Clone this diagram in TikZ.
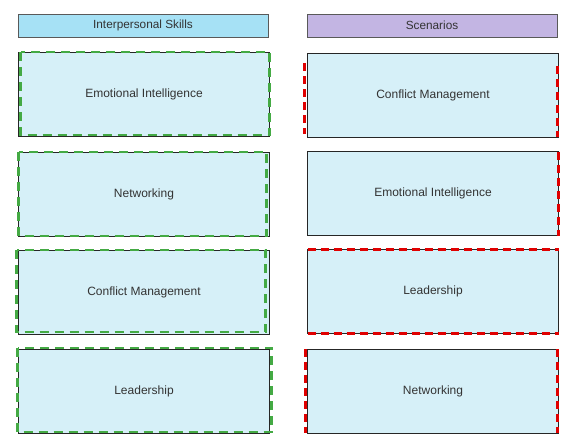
\documentclass[tikz,border=0pt]{standalone}
\usepackage{fontspec}
\setmainfont{Liberation Sans}
\begin{document}
\begin{tikzpicture}[x=1pt,y=-1pt,
  hdr/.style={draw=black!65, line width=0.9pt, minimum width=250pt, minimum height=23pt, inner sep=0pt, outer sep=0pt, text=black!80, font=\fontsize{11.8}{13}\selectfont},
  box/.style={draw=black!85, line width=0.9pt, fill=boxfill, minimum width=251pt, minimum height=84pt, inner sep=0pt, outer sep=0pt, text=black!80, font=\fontsize{12}{14}\selectfont},
  gdash/.style={draw=dgreen, line width=2.2pt, dash pattern=on 9pt off 6pt},
  rdash/.style={draw=dred, line width=2.2pt, dash pattern=on 8pt off 5pt}]
\definecolor{boxfill}{HTML}{D6F0F8}
\definecolor{hdrblue}{HTML}{A6E1F5}
\definecolor{hdrpurple}{HTML}{C3B5E3}
\definecolor{dgreen}{HTML}{44AA44}
\definecolor{dred}{HTML}{E00000}
\useasboundingbox[fill=white] (0,0) rectangle (577,444);

\node[hdr, fill=hdrblue] (hl) at (143,25.5) {Interpersonal Skills};
\node[hdr, fill=hdrpurple] (hr) at (432,25.5) {Scenarios};

\node[box] (l1) at (144,94) {Emotional Intelligence};
\node[box] (l2) at (144,194) {Networking};
\node[box] (l3) at (144,292) {Conflict Management};
\node[box] (l4) at (144,391) {Leadership};

\node[box] (r1) at (433,95) {Conflict Management};
\node[box] (r2) at (433,193.5) {Emotional Intelligence};
\node[box] (r3) at (433,291.5) {Leadership};
\node[box] (r4) at (433,391) {Networking};

% green dashed overlays (left column)
\draw[gdash] ([shift={(2,0)}]l1.north west) rectangle ([shift={(0,-1)}]l1.south east);
\draw[gdash] ([shift={(0,0)}]l2.north west) rectangle ([shift={(-3,0)}]l2.south east);
\draw[gdash] ([shift={(-2,0)}]l3.north west) rectangle ([shift={(-4,-2)}]l3.south east);
\draw[gdash] ([shift={(-1,-1)}]l4.north west) rectangle ([shift={(2,-1)}]l4.south east);

% red dashed overlays (right column)
\draw[rdash] ([shift={(-3,10)}]r1.north west) -- ([shift={(-3,-3)}]r1.south west);
\draw[rdash] ([shift={(-1,13)}]r1.north east) -- ([shift={(-1,0)}]r1.south east);
\draw[rdash] (r2.north east) -- (r2.south east);
\draw[rdash] (r3.north west) -- (r3.north east);
\draw[rdash] (r3.south west) -- (r3.south east);
\draw[rdash] ([shift={(-2,0)}]r4.north west) -- ([shift={(-2,0)}]r4.south west);
\draw[rdash] ([shift={(-1,0)}]r4.north east) -- ([shift={(-1,0)}]r4.south east);
\end{tikzpicture}
\end{document}
